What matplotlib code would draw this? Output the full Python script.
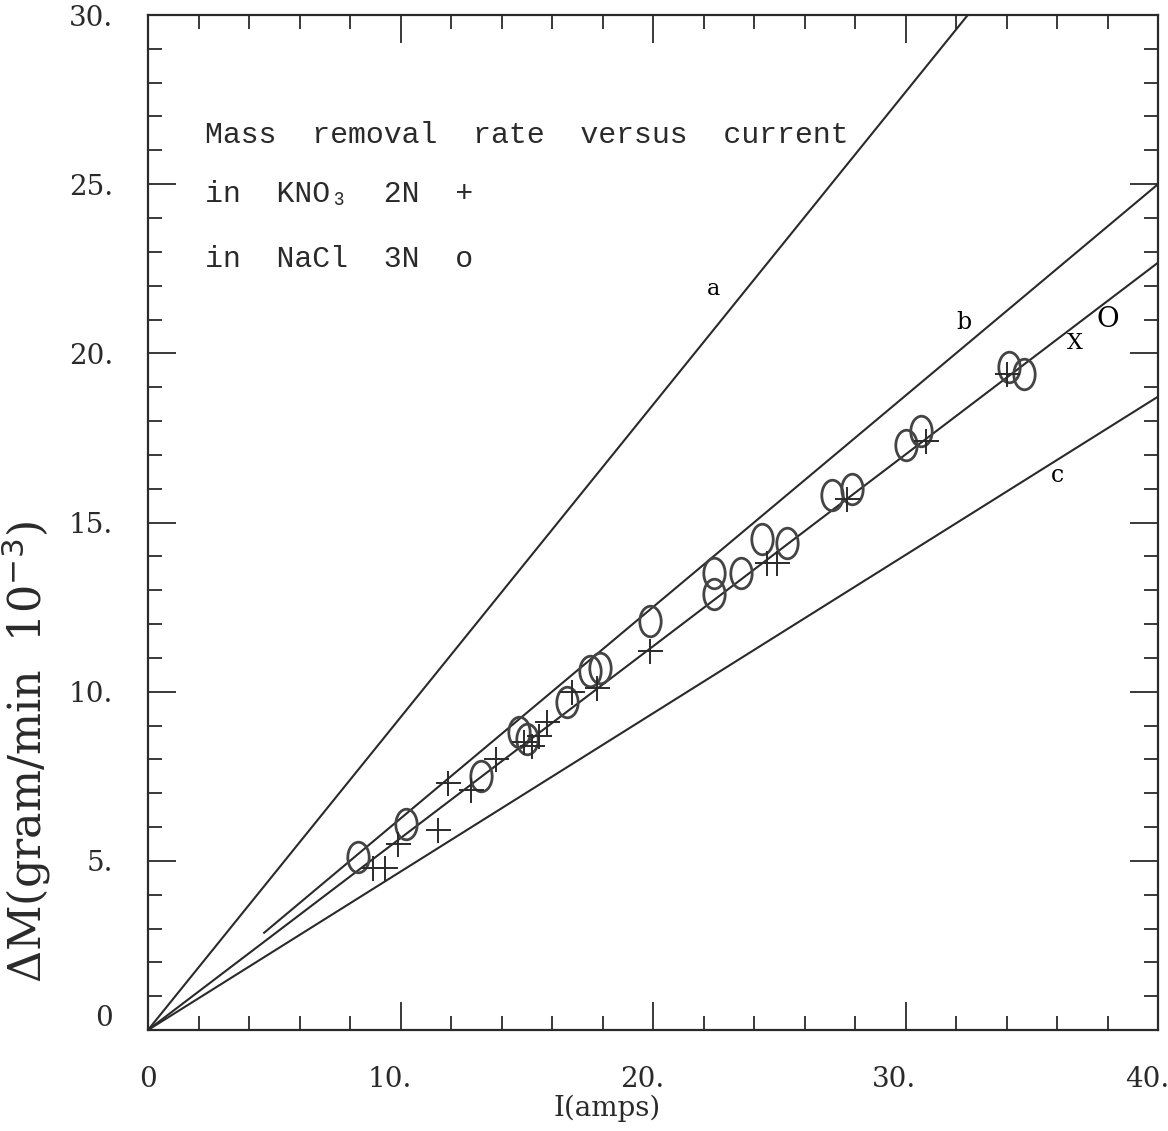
import numpy as np
import matplotlib
matplotlib.use("Agg")
import matplotlib.pyplot as plt
from matplotlib.path import Path
from matplotlib.transforms import Affine2D, ScaledTranslation

# data
nacl_i = [8.3, 10.2, 13.2, 14.7, 15.0, 16.6, 17.5, 17.9, 19.9, 22.4, 22.4, 23.5,
          24.3, 25.3, 27.1, 27.9, 30.0, 30.6, 34.1, 34.7]
nacl_m = [5.1, 6.1, 7.5, 8.8, 8.6, 9.7, 10.6, 10.7, 12.1, 13.5, 12.9, 13.5,
          14.5, 14.4, 15.8, 16.0, 17.3, 17.7, 19.6, 19.4]
kno3_i = [8.9, 9.4, 9.9, 11.5, 11.9, 12.8, 13.8, 14.9, 15.2, 15.5, 15.8, 16.8,
          17.8, 19.9, 24.5, 24.9, 27.7, 30.8, 34.0]
kno3_m = [4.8, 4.8, 5.5, 5.9, 7.3, 7.1, 8.0, 8.5, 8.4, 8.7, 9.1, 10.0,
          10.1, 11.2, 13.8, 13.8, 15.7, 17.4, 19.4]

# reference lines: slope, x start, x end
line_slopes = [0.924, 0.625, 0.567, 0.468]
line_x0 = [0.0, 4.6, 0.0, 0.0]
line_x1 = [32.5, 40.0, 40.0, 40.0]

legend_lines = ["Mass  removal  rate  versus  current",
                "in  KNO\u2083  2N  +",
                "in  NaCl  3N  o"]
legend_y = [26.45, 24.7, 22.8]

font = ["DejaVu Serif", "DejaVu Sans"]
mono = ["Liberation Mono", "DejaVu Sans Mono"]
ink = "#2a2a2a"

fig = plt.figure(figsize=(11.68, 11.31), dpi=100)
ax = fig.add_axes([148/1168, 101/1131, 1010/1168, 1015/1131])

for s, x0, x1 in zip(line_slopes, line_x0, line_x1):
    xs = np.array([x0, x1])
    ax.plot(xs, s * xs, color=ink, lw=1.5)

oval = Path.unit_circle().transformed(Affine2D().scale(0.7, 1.0))
ax.plot(nacl_i, nacl_m, ls="none", marker=oval, ms=22, mfc="none",
        mec="#444444", mew=2.0)
ax.plot(kno3_i, kno3_m, ls="none", marker="+", ms=18, mec=ink, mew=1.4)

# line letters and the extra points at the right
ax.text(22.4, 21.9, "a", fontsize=16, family=font, ha="center", va="center")
ax.text(32.3, 20.9, "b", fontsize=17, family=font, ha="center", va="center")
ax.text(36.7, 20.3, "X", fontsize=16, family=font, ha="center", va="center")
ax.text(38.0, 21.0, "O", fontsize=20, family=font, ha="center", va="center")
ax.text(36.0, 16.4, "c", fontsize=17, family=font, ha="center", va="center")

for s, y in zip(legend_lines, legend_y):
    ax.text(2.25, y, s, fontsize=21.5, family=mono, va="center", color=ink)

ax.set_xlim(0, 40)
ax.set_ylim(0, 30)
ax.set_xticks([0, 10, 20, 30, 40])
ax.set_xticklabels(["0", "10.", "20.", "30.", "40."])
ax.set_xticks(np.arange(0, 41, 2), minor=True)
ax.set_yticks([0, 5, 10, 15, 20, 25, 30])
ax.set_yticklabels(["0", "5.", "10.", "15.", "20.", "25.", "30."])
ax.set_yticks(np.arange(0, 31, 1), minor=True)
ax.tick_params(which="both", direction="in", top=True, right=True, width=1.3,
               labelsize=20, colors=ink)
ax.tick_params(which="major", length=20)
ax.tick_params(which="minor", length=10)
ax.tick_params(axis="x", which="major", pad=26)
ax.tick_params(axis="y", which="major", pad=25)
shift = ScaledTranslation(-11/100, 0, fig.dpi_scale_trans)
for lab in ax.get_xticklabels()[1:]:
    lab.set_transform(lab.get_transform() + shift)
lift = ScaledTranslation(0, 14/100, fig.dpi_scale_trans)
y0 = ax.get_yticklabels()[0]
y0.set_transform(y0.get_transform() + lift)
for lab in ax.get_xticklabels() + ax.get_yticklabels():
    lab.set_family(font)
for sp in ax.spines.values():
    sp.set_linewidth(1.6)
    sp.set_color(ink)

fig.text(607/1168, 1 - 1108/1131, "I(amps)", fontsize=20, family=font,
         ha="center", va="center", color=ink)
fig.text(26/1168, 1 - 752/1131, "ΔM(gram/min  10$^{-3}$)", fontsize=32,
         family=font, rotation=90, ha="center", va="center", color=ink)

fig.savefig("out.png", dpi=100)
